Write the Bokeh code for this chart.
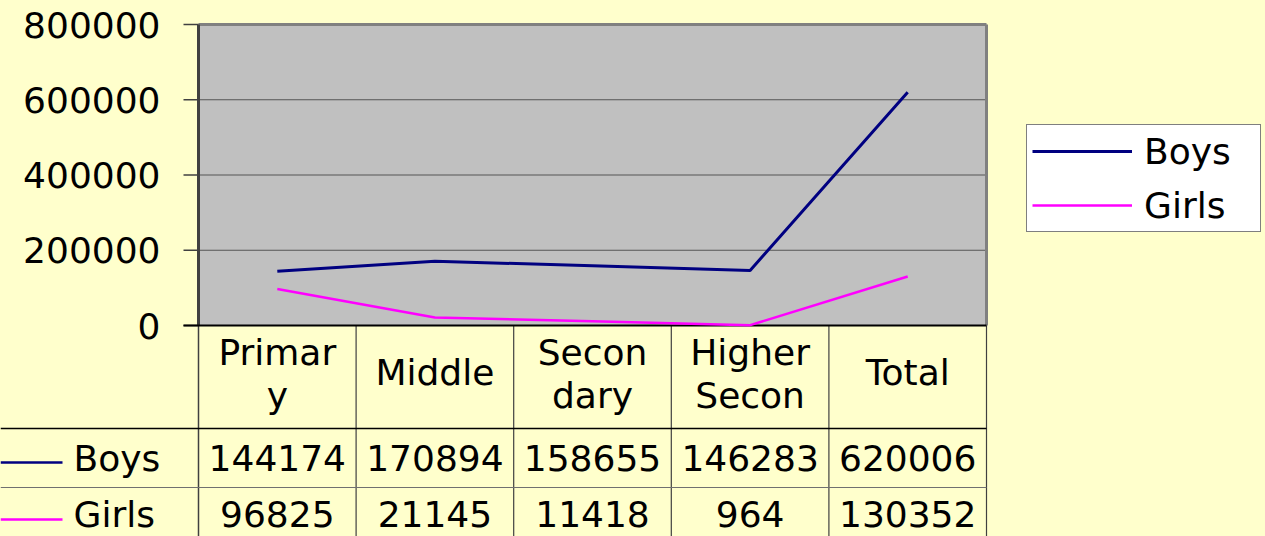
from bokeh.plotting import figure
from bokeh.models import Range1d, Legend, LegendItem
from bokeh.core.properties import value
from bokeh.embed import file_html
from bokeh.resources import INLINE

# ---------------- data ----------------
categories = ["Primar\ny", "Middle", "Secon\ndary", "Higher\nSecon", "Total"]
boys = [144174, 170894, 158655, 146283, 620006]
girls = [96825, 21145, 11418, 964, 130352]
y_ticks = [0, 200000, 400000, 600000, 800000]
series_names = ["Boys", "Girls"]

# ---------------- style ----------------
BG = "#FFFFCC"
PLOT_BG = "#C0C0C0"
BOYS_C = "#000080"
GIRLS_C = "#FF00FF"
FONT_NAME = "DejaVu Sans"
FONT = value(FONT_NAME)
FS = "36px"

# ---------------- layout (page pixels) ----------------
W, H = 1265, 536
PX0, PY0 = 0, 0
COL0, COLW = 198, 157.6
TOP_PX, ZERO_PX = 24, 325
YMAX = 800000
ppu = (ZERO_PX - TOP_PX) / YMAX
n = len(categories)
idx = list(range(n))

xr = Range1d((PX0 - COL0) / COLW - 0.5, (PX0 + W - COL0) / COLW - 0.5)
yr = Range1d((ZERO_PX - (PY0 + H)) / ppu, (ZERO_PX - PY0) / ppu)

p = figure(width=W, height=H, x_range=xr, y_range=yr,
           output_backend="svg", toolbar_location=None,
           x_axis_location=None, y_axis_location=None,
           min_border=0, background_fill_color=BG, border_fill_color=BG,
           outline_line_color=None)
p.grid.visible = False
p.extra_x_ranges = {"px": Range1d(PX0, PX0 + W)}
p.extra_y_ranges = {"px": Range1d(PY0 + H, PY0)}

# plot area
p.quad(left=-0.5, right=n - 0.5, bottom=0, top=YMAX, fill_color=PLOT_BG, line_color=None)
# gridlines
for t in y_ticks[1:-1]:
    p.segment(x0=-0.5, x1=n - 0.5, y0=t, y1=t, line_color="#555555", line_width=1)
# top / right border
p.segment(x0=-0.5, x1=n - 0.5, y0=YMAX, y1=YMAX, line_color="#808080", line_width=3)
p.segment(x0=n - 0.5, x1=n - 0.5, y0=0, y1=YMAX, line_color="#808080", line_width=3)
# y axis line & ticks
p.segment(x0=-0.5, x1=-0.5, y0=0, y1=YMAX, line_color="#404040", line_width=3)
for t in y_ticks:
    p.segment(x0=183, x1=198, y0=t, y1=t, x_range_name="px", line_color="#404040", line_width=1.5)
p.text(x=[160] * len(y_ticks), y=y_ticks, text=[str(t) for t in y_ticks], x_range_name="px",
       text_align="right", text_baseline="middle", text_font=FONT, text_font_size=FS,
       text_color="black")

# ---------------- data table ----------------
p.segment(x0=198, x1=198, y0=ZERO_PX, y1=PY0 + H, x_range_name="px", y_range_name="px",
          line_color="#404040", line_width=1.5)
for b in range(1, n + 1):
    p.segment(x0=b - 0.5, x1=b - 0.5, y0=ZERO_PX, y1=PY0 + H, y_range_name="px",
              line_color="#404040", line_width=1.2)
p.segment(x0=PX0, x1=COL0 + n * COLW, y0=428, y1=428, x_range_name="px", y_range_name="px",
          line_color="black", line_width=1.5)
p.segment(x0=PX0, x1=COL0 + n * COLW, y0=487, y1=487, x_range_name="px", y_range_name="px",
          line_color="#707070", line_width=1)
# x axis line
p.segment(x0=183, x1=COL0 + n * COLW, y0=ZERO_PX, y1=ZERO_PX, x_range_name="px", y_range_name="px",
          line_color="black", line_width=2)

# category header
cx, cy, ct = [], [], []
for i, c in enumerate(categories):
    parts = c.split("\n")
    ys = [372] if len(parts) == 1 else [352, 395]
    for part, yy in zip(parts, ys):
        cx.append(i); cy.append(yy); ct.append(part)
p.text(x=cx, y=cy, text=ct, y_range_name="px", text_align="center", text_baseline="middle",
       text_font=FONT, text_font_size=FS, text_color="black")

# value rows
p.text(x=idx, y=[457] * n, text=[str(v) for v in boys], y_range_name="px",
       text_align="center", text_baseline="middle", text_font=FONT, text_font_size=FS,
       text_color="black")
p.text(x=idx, y=[513] * n, text=[str(v) for v in girls], y_range_name="px",
       text_align="center", text_baseline="middle", text_font=FONT, text_font_size=FS,
       text_color="black")

# row headers with legend keys
p.segment(x0=PX0, x1=62, y0=462, y1=462, x_range_name="px", y_range_name="px",
          line_color=BOYS_C, line_width=2.5)
p.segment(x0=PX0, x1=62, y0=519, y1=519, x_range_name="px", y_range_name="px",
          line_color=GIRLS_C, line_width=2.5)
p.text(x=[73, 73], y=[458, 514], text=series_names, x_range_name="px", y_range_name="px",
       text_align="left", text_baseline="middle", text_font=FONT, text_font_size=FS,
       text_color="black")

# ---------------- series lines ----------------
rb = p.line(x=idx, y=boys, line_color=BOYS_C, line_width=3)
rg = p.line(x=idx, y=girls, line_color=GIRLS_C, line_width=2.5)

legend = Legend(items=[LegendItem(label=series_names[0], renderers=[rb]),
                       LegendItem(label=series_names[1], renderers=[rg])],
                location=(1026 - PX0, (PY0 + H) - 232),
                border_line_color="black", border_line_width=1,
                background_fill_color="white", background_fill_alpha=1,
                padding=5, spacing=12, margin=0,
                glyph_width=100, glyph_height=42, label_height=42, label_width=111,
                label_standoff=12, label_text_font=FONT_NAME, label_text_font_size=FS,
                label_text_color="black")
p.add_layout(legend)

html = file_html(p, INLINE, title="Boys and Girls")
html = html.replace("</head>", "<style>html, body {background: #FFFFCC;}</style></head>", 1)
open("out.html", "w").write(html)
